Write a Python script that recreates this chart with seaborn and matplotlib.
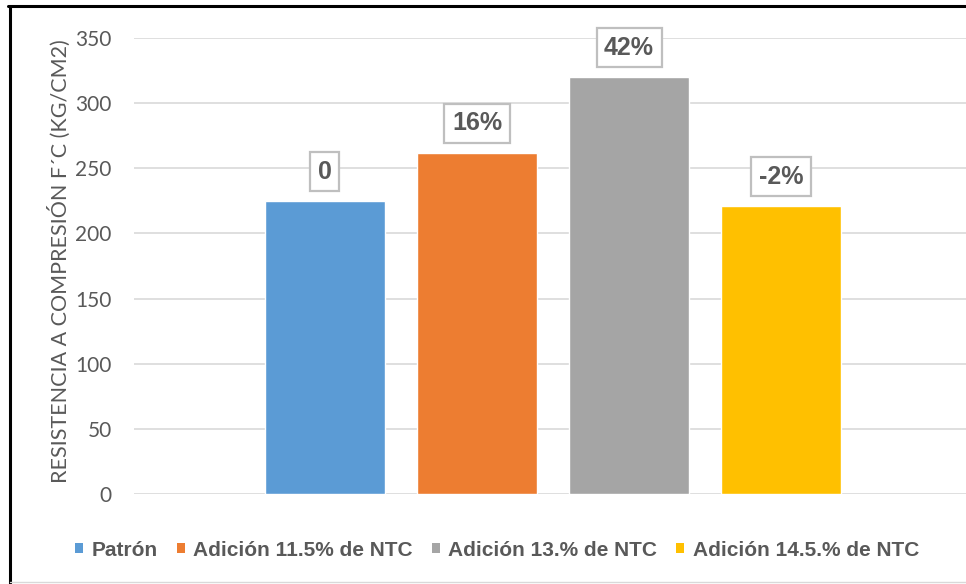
import matplotlib
matplotlib.use("Agg")
import matplotlib.pyplot as plt
from matplotlib.lines import Line2D
from matplotlib.patches import Patch
import pandas as pd
import seaborn as sns

# Compressive strength results per mix
series = ["Patrón", "Adición 11.5% de NTC", "Adición 13.% de NTC", "Adición 14.5.% de NTC"]
resistencia = [225, 262, 320, 221]
colores = ["#5B9BD5", "#ED7D31", "#A5A5A5", "#FFC000"]
yticks = [0, 50, 100, 150, 200, 250, 300, 350]
ylabel = "RESISTENCIA A COMPRESIÓN F´C (KG/CM2)"

df = pd.DataFrame({"grupo": [""] * len(series), "serie": series, "valor": resistencia})

sns.set_theme(style="white")
plt.rcParams["font.family"] = ["Liberation Sans", "DejaVu Sans"]

fig = plt.figure(figsize=(9.66, 5.84), dpi=100)
W, H = 966, 584
ax = fig.add_axes([134 / W, 1 - 494 / H, (972 - 134) / W, (494 - 38) / H])

sns.barplot(data=df, x="grupo", y="valor", hue="serie", palette=colores,
            width=0.726, gap=0.21, ax=ax, legend=False, saturation=1)

ax.set_ylim(0, 350)
ax.set_xlim(-0.5, 0.5)
ax.set_yticks(yticks)
ax.set_xticks([])
ax.set_xlabel("")
ax.grid(axis="y", color="#D9D9D9", lw=1.2)
ax.set_axisbelow(True)
for s in ax.spines.values():
    s.set_visible(False)
ax.tick_params(axis="y", length=0, pad=16, colors="#595959", labelsize=15)
for t in ax.get_yticklabels():
    t.set_fontfamily(["Lato", "DejaVu Sans"])
ax.set_ylabel(ylabel, color="#595959", fontsize=15.5, fontfamily=["Lato", "DejaVu Sans"])
ax.yaxis.label.set_va("center")
ax.yaxis.set_label_coords((59 - 134) / 838, (494 - 261) / 456)

# Percent change relative to the reference mix
base = resistencia[0]
for i, bar in enumerate(ax.patches[:len(series)]):
    v = resistencia[i]
    pct = round((v / base - 1) * 100)
    txt = "0" if i == 0 else f"{pct}%"
    ax.annotate(txt, (bar.get_x() + bar.get_width() / 2, v),
                xytext=(0, 21), textcoords="offset points",
                ha="center", va="center", fontsize=18, fontweight="bold", color="#595959",
                bbox=dict(boxstyle="square,pad=0.3", fc="white", ec="#BFBFBF", lw=1.6))

handles = [Patch(facecolor=c, edgecolor="none") for c in colores]
fig.legend(handles, series, loc="center", bbox_to_anchor=(0.5 + 14 / W, 1 - 550 / H), ncol=4,
           frameon=False, handlelength=0.4, handleheight=0.4, handletextpad=0.4,
           columnspacing=0.9, prop={"size": 15, "weight": "bold"}, labelcolor="#595959")

# Outer frame
fig.add_artist(Line2D([8 / W, 1], [1 - 6 / H, 1 - 6 / H], color="black", lw=2.2))
fig.add_artist(Line2D([10 / W, 10 / W], [0, 1 - 6 / H], color="black", lw=2.2))
fig.add_artist(Line2D([10 / W, 1], [1 - 582 / H, 1 - 582 / H], color="#D9D9D9", lw=1))

fig.savefig("out.png", dpi=100)
